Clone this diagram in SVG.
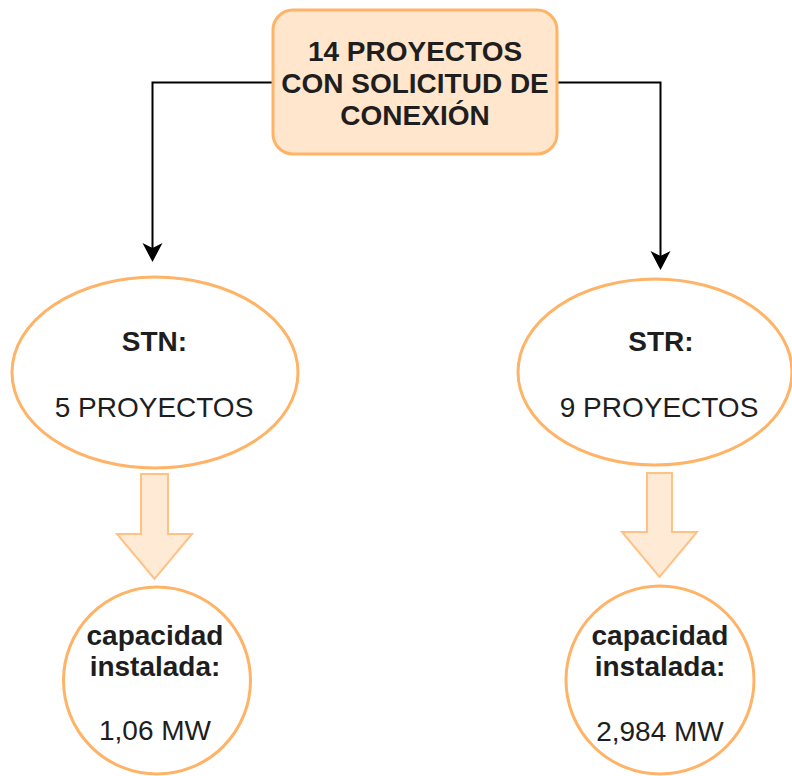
<svg xmlns="http://www.w3.org/2000/svg" width="792" height="776" viewBox="0 0 792 776">
  <style>
    .box { fill: #FFE6CC; stroke: #FFB366; stroke-width: 3; }
    .oval { fill: #FFFFFF; stroke: #FFB366; stroke-width: 3; }
    .link { fill: none; stroke: #000000; stroke-width: 2; }
    .flow { fill: #FFE6CC; stroke: #FFB366; stroke-width: 2; stroke-linejoin: miter; opacity: 0.8; }
    text { font-family: "Liberation Sans", Arial, Helvetica, sans-serif; font-size: 28px; fill: #1E1E1E; text-anchor: middle; }
    .b { font-weight: bold; }
  </style>
  <defs>
    <marker id="head" markerUnits="userSpaceOnUse" markerWidth="25" markerHeight="22" viewBox="-24 -11 25 22" refX="-4" refY="0" orient="auto">
      <path d="M0,0 L-19,-10 L-14,0 L-19,10 Z" fill="#000000"/>
    </marker>
  </defs>

  <rect width="792" height="776" fill="#FFFFFF"/>

  <!-- connectors -->
  <g id="connectors">
    <path class="link" d="M273,82.5 H152.5 V258" marker-end="url(#head)"/>
    <path class="link" d="M558,82.5 H660.5 V266" marker-end="url(#head)"/>
    <polygon class="flow" points="141,474 168,474 168,534 192,534 154.5,579 117,534 141,534"/>
    <polygon class="flow" points="647,473 672,473 672,532 697,532 659.5,577 622,532 647,532"/>
  </g>

  <!-- top request box -->
  <g id="solicitudes">
    <rect class="box" x="273" y="10" width="284" height="144" rx="20" ry="20"/>
    <text class="b" x="415" y="61">14 PROYECTOS</text>
    <text class="b" x="415" y="93">CON SOLICITUD DE</text>
    <text class="b" x="415" y="125">CONEXIÓN</text>
  </g>

  <!-- STN branch -->
  <g id="stn">
    <ellipse class="oval" cx="155" cy="372.5" rx="143" ry="95.5"/>
    <text class="b" x="154.5" y="351">STN:</text>
    <text x="154" y="417">5 PROYECTOS</text>
  </g>

  <!-- STR branch -->
  <g id="str">
    <ellipse class="oval" cx="655" cy="372" rx="137" ry="93"/>
    <text class="b" x="661" y="351">STR:</text>
    <text x="659" y="417">9 PROYECTOS</text>
  </g>

  <!-- installed capacity, STN -->
  <g id="capacidad-stn">
    <circle class="oval" cx="157" cy="680.5" r="93.5"/>
    <text class="b" x="155" y="645">capacidad</text>
    <text class="b" x="155" y="676">instalada:</text>
    <text x="155" y="740">1,06 MW</text>
  </g>

  <!-- installed capacity, STR -->
  <g id="capacidad-str">
    <circle class="oval" cx="660" cy="680" r="94"/>
    <text class="b" x="660" y="645">capacidad</text>
    <text class="b" x="660" y="676">instalada:</text>
    <text x="660" y="741">2,984 MW</text>
  </g>
</svg>
